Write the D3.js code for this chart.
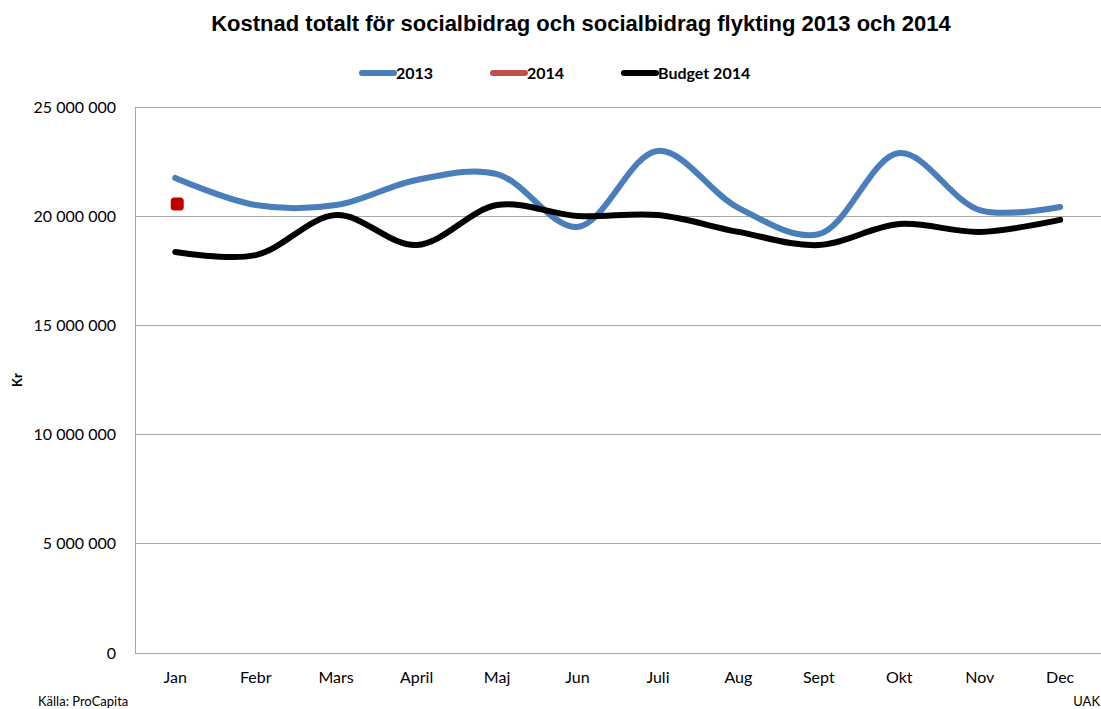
<!DOCTYPE html>
<html><head><meta charset="utf-8">
<script src="https://cdn.jsdelivr.net/npm/d3@7"></script>
<style>body{margin:0;background:#fff}svg{display:block}</style>
</head><body><svg id="c" width="1101" height="709"></svg>
<script>
const months = ["Jan","Febr","Mars","April","Maj","Jun","Juli","Aug","Sept","Okt","Nov","Dec"];
const values2013 = [21750000,20510000,20510000,21660000,21930000,19510000,22990000,20380000,19180000,22890000,20280000,20420000];
const values2014 = [20560000];
const budget2014 = [18360000,18220000,20050000,18680000,20510000,20010000,20050000,19280000,18680000,19640000,19280000,19830000];
const yTicks = [0,5000000,10000000,15000000,20000000,25000000];
const seriesNames = ["2013","2014","Budget 2014"];
const colors = ["#4A7EBB","#C0504D","#000000"];

const svg = d3.select("#c");
const L = 135, R = 1101, T = 107, B = 653;
const x = d3.scaleBand().domain(months).range([L, L + 12*80.45]);
const y = d3.scaleLinear().domain([0,25000000]).range([B, T]);
const fmt = v => d3.format(",")(v).replace(/,/g, " ");
const cx = m => x(m) + x.bandwidth()/2;

// gridlines
svg.append("g").selectAll("line").data(yTicks.filter(d=>d>0)).join("line")
  .attr("x1", L).attr("x2", R).attr("y1", d=>y(d)).attr("y2", d=>y(d))
  .attr("stroke", "#a6a6a6").attr("stroke-width", 1).attr("shape-rendering","crispEdges");

// axes
const ya = d3.axisLeft(y).tickValues(yTicks).tickFormat(fmt).tickSize(0).tickPadding(19);
const yg = svg.append("g").attr("transform", `translate(${L},0)`).call(ya);
yg.select(".domain").attr("stroke","#a6a6a6").attr("shape-rendering","crispEdges");
yg.selectAll("text").attr("font-family","Lato, 'Open Sans', sans-serif").attr("font-size",16).attr("fill","#000");

const xa = d3.axisBottom(x).tickSize(0).tickPadding(19);
const xg = svg.append("g").attr("transform", `translate(0,${B})`).call(xa);
xg.select(".domain").attr("stroke","#a6a6a6").attr("shape-rendering","crispEdges");
xg.selectAll("text").attr("font-family","Lato, 'Open Sans', sans-serif").attr("font-size",16).attr("fill","#000");

// lines
const line = d3.line().x((d,i)=>cx(months[i])).y(d=>y(d)).curve(d3.curveCatmullRom.alpha(0.5));
svg.append("path").datum(values2013).attr("d", line).attr("fill","none")
  .attr("stroke", colors[0]).attr("stroke-width", 6).attr("stroke-linecap","round").attr("stroke-linejoin","round");
svg.append("path").datum(budget2014).attr("d", line).attr("fill","none")
  .attr("stroke", colors[2]).attr("stroke-width", 6).attr("stroke-linecap","round").attr("stroke-linejoin","round");
svg.append("g").selectAll("rect").data(values2014).join("rect")
  .attr("x",(d,i)=>cx(months[i])-6.5+2).attr("y",d=>y(d)-6.5).attr("width",13).attr("height",13)
  .attr("rx",3.5).attr("fill","#C00000");

// title
svg.append("text").attr("x", 581).attr("y", 31).attr("text-anchor","middle")
  .attr("font-family","'Liberation Sans', Arial, sans-serif").attr("font-weight","bold").attr("font-size",22)
  .text("Kostnad totalt för socialbidrag och socialbidrag flykting 2013 och 2014");

// legend
const lx = [360, 491, 622];
const lg = svg.append("g").selectAll("g").data(seriesNames).join("g")
  .attr("transform",(d,i)=>`translate(${lx[i]},73)`);
lg.append("line").attr("x1",2).attr("x2",34).attr("y1",0).attr("y2",0)
  .attr("stroke",(d,i)=>colors[i]).attr("stroke-width",6).attr("stroke-linecap","round");
lg.append("text").attr("x",36).attr("y",6).text(d=>d)
  .attr("font-family","Lato, 'Open Sans', sans-serif").attr("font-weight","bold").attr("font-size",16);

// y title
svg.append("text").attr("transform","translate(22,380) rotate(-90)").attr("text-anchor","middle")
  .attr("font-family","Lato, 'Open Sans', sans-serif").attr("font-weight","bold").attr("font-size",13).text("Kr");

// footers
svg.append("text").attr("x",38).attr("y",706).attr("font-family","Lato, 'Open Sans', sans-serif").attr("font-size",13).text("Källa: ProCapita");
svg.append("text").attr("x",1100).attr("y",706).attr("text-anchor","end").attr("font-family","Lato, 'Open Sans', sans-serif").attr("font-size",13).text("UAK");
</script></body></html>
